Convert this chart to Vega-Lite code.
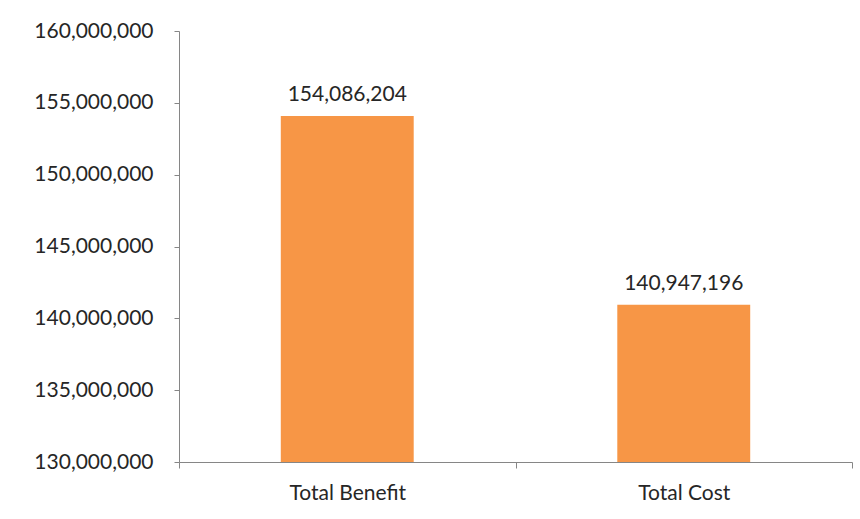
{
  "$schema": "https://vega.github.io/schema/vega-lite/v6.json",
  "width": 673,
  "height": 431,
  "autosize": {"type": "none"},
  "padding": {"left": 179, "top": 31, "right": 8, "bottom": 57},
  "background": "white",
  "config": {"view": {"stroke": null}, "font": "Lato"},
  "data": {"values": [
    {"category": "Total Benefit", "value": 154086204},
    {"category": "Total Cost", "value": 140947196}
  ]},
  "encoding": {
    "x": {
      "field": "category", "type": "nominal", "sort": null,
      "scale": {"paddingInner": 0, "paddingOuter": 0},
      "axis": {
        "title": null, "labelAngle": 0, "tickBand": "extent", "tickSize": 6,
        "labelPadding": 14, "labelFontSize": 21, "labelColor": "#262626",
        "domainColor": "#868686", "tickColor": "#868686", "labelFont": "Lato"
      }
    },
    "y": {
      "field": "value", "type": "quantitative",
      "scale": {"domain": [130000000, 160000000], "nice": false, "zero": false},
      "axis": {
        "title": null, "values": [130000000, 135000000, 140000000, 145000000, 150000000, 155000000, 160000000],
        "format": ",d", "grid": false, "tickSize": 5, "labelPadding": 21,
        "labelFontSize": 21, "labelColor": "#262626",
        "domainColor": "#868686", "tickColor": "#868686", "labelFont": "Lato"
      }
    }
  },
  "layer": [
    {"mark": {"type": "bar", "color": "#F79646", "clip": true, "width": {"band": 0.395}}},
    {
      "mark": {"type": "text", "baseline": "alphabetic", "dy": -15, "fontSize": 21, "color": "#262626", "font": "Lato"},
      "encoding": {"text": {"field": "value", "type": "quantitative", "format": ",d"}}
    }
  ]
}
